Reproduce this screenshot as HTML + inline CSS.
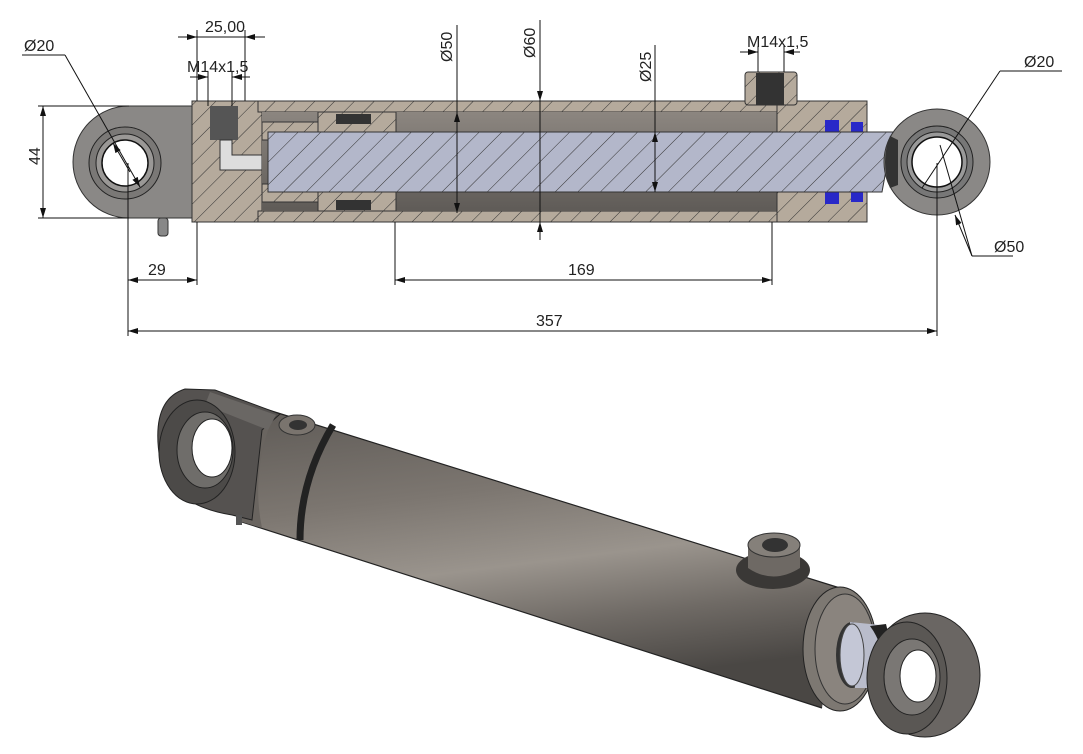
<!DOCTYPE html>
<html><head><meta charset="utf-8"><style>
html,body{margin:0;padding:0;background:#fff;}
svg{display:block;font-family:"Liberation Sans",sans-serif;}
</style></head><body>
<svg width="1083" height="754" viewBox="0 0 1083 754" xmlns="http://www.w3.org/2000/svg">
<defs>
<pattern id="h" width="14" height="14" patternUnits="userSpaceOnUse" patternTransform="rotate(45)">
<rect width="14" height="14" fill="#b5aa9c"/><line x1="0" y1="0" x2="0" y2="14" stroke="#333" stroke-width="1"/></pattern>
<pattern id="hr" width="16" height="16" patternUnits="userSpaceOnUse" patternTransform="rotate(45)">
<rect width="16" height="16" fill="#b3b7ca"/><line x1="0" y1="0" x2="0" y2="16" stroke="#333" stroke-width="1"/></pattern>
<linearGradient id="tube" x1="0" y1="0" x2="0.25" y2="1">
<stop offset="0" stop-color="#5e5a56"/><stop offset="0.35" stop-color="#7c7670"/><stop offset="0.6" stop-color="#9a948d"/><stop offset="0.8" stop-color="#6f6a65"/><stop offset="1" stop-color="#4a4744"/></linearGradient>
<linearGradient id="bore" x1="0" y1="0" x2="0" y2="1"><stop offset="0" stop-color="#8c8680"/><stop offset="1" stop-color="#5f5b57"/></linearGradient>
<marker id="a" viewBox="0 0 10 6" refX="10" refY="3" markerWidth="10" markerHeight="6" orient="auto-start-reverse"><path d="M0,0L10,3L0,6z" fill="#111"/></marker>
</defs>

<!-- ===== Section view ===== -->
<path d="M129,106 L197,106 L197,218 L129,218 A56,56 0 0 1 129,106z" fill="#8a8886" stroke="#333"/>
<circle cx="125" cy="163" r="36" fill="#7a7876" stroke="#222"/>
<circle cx="125" cy="163" r="29" fill="#9a9896" stroke="#222"/>
<circle cx="125" cy="163" r="23" fill="#fff" stroke="#111" stroke-width="1.5"/>
<rect x="158" y="218" width="10" height="18" rx="3" fill="#888" stroke="#333"/>
<rect x="192" y="101" width="70" height="121" fill="url(#h)" stroke="#333"/>
<rect x="210" y="106" width="28" height="34" fill="#555"/>
<path d="M220,140 L220,170 L262,170 L262,155 L232,155 L232,140z" fill="#ddd" stroke="#333"/>
<rect x="258" y="101" width="595" height="11" fill="url(#h)" stroke="#333"/>
<rect x="258" y="211" width="595" height="11" fill="url(#h)" stroke="#333"/>
<rect x="262" y="112" width="515" height="99" fill="url(#bore)"/>
<rect x="777" y="101" width="90" height="31" fill="url(#h)" stroke="#333"/>
<rect x="777" y="192" width="90" height="30" fill="url(#h)" stroke="#333"/>
<rect x="825" y="120" width="14" height="12" fill="#2828c8"/><rect x="851" y="122" width="12" height="10" fill="#2828c8"/>
<rect x="825" y="192" width="14" height="12" fill="#2828c8"/><rect x="851" y="192" width="12" height="10" fill="#2828c8"/>
<rect x="318" y="112" width="78" height="20" fill="url(#h)" stroke="#333"/>
<rect x="318" y="192" width="78" height="19" fill="url(#h)" stroke="#333"/>
<rect x="336" y="114" width="35" height="10" fill="#333"/><rect x="336" y="200" width="35" height="10" fill="#333"/>
<rect x="262" y="122" width="56" height="18" fill="url(#h)" stroke="#333"/>
<rect x="262" y="184" width="56" height="18" fill="url(#h)" stroke="#333"/>
<path d="M268,132 L893,132 L882,192 L268,192z" fill="url(#hr)" stroke="#333"/>
<rect x="745" y="72" width="52" height="33" rx="3" fill="url(#h)" stroke="#333"/>
<rect x="756" y="73" width="28" height="32" fill="#333"/>
<circle cx="937" cy="162" r="53" fill="#8a8886" stroke="#333"/>
<circle cx="937" cy="162" r="36" fill="#777" stroke="#222"/>
<circle cx="937" cy="162" r="30" fill="#999" stroke="#222"/>
<circle cx="937" cy="162" r="25" fill="#fff" stroke="#111" stroke-width="1.5"/>
<path d="M890,136 Q880,162 890,188 L898,185 L898,140z" fill="#333"/>

<!-- ===== Dimensions ===== -->
<g stroke="#111" stroke-width="1" fill="none">
<line x1="43" y1="106" x2="43" y2="218" marker-start="url(#a)" marker-end="url(#a)"/>
<line x1="38" y1="106" x2="129" y2="106"/><line x1="38" y1="218" x2="129" y2="218"/>
<line x1="197" y1="30" x2="197" y2="101"/><line x1="245" y1="30" x2="245" y2="101"/>
<line x1="178" y1="37" x2="197" y2="37" marker-end="url(#a)"/><line x1="265" y1="37" x2="245" y2="37" marker-end="url(#a)"/><line x1="197" y1="37" x2="245" y2="37"/>
<line x1="208" y1="72" x2="208" y2="106"/><line x1="232" y1="72" x2="232" y2="106"/>
<line x1="190" y1="77" x2="208" y2="77" marker-end="url(#a)"/><line x1="250" y1="77" x2="232" y2="77" marker-end="url(#a)"/>
<line x1="22" y1="55" x2="65" y2="55"/><line x1="65" y1="55" x2="140" y2="187" marker-end="url(#a)"/><line x1="130" y1="172" x2="113" y2="143" marker-end="url(#a)"/>
<line x1="457" y1="25" x2="457" y2="213" marker-end="url(#a)"/><line x1="457" y1="150" x2="457" y2="112" marker-end="url(#a)"/>
<line x1="540" y1="20" x2="540" y2="240"/><line x1="540" y1="80" x2="540" y2="101" marker-end="url(#a)"/><line x1="540" y1="240" x2="540" y2="222" marker-end="url(#a)"/>
<line x1="655" y1="45" x2="655" y2="192" marker-end="url(#a)"/><line x1="655" y1="160" x2="655" y2="132" marker-end="url(#a)"/>
<line x1="758" y1="46" x2="758" y2="72"/><line x1="784" y1="46" x2="784" y2="72"/>
<line x1="740" y1="52" x2="758" y2="52" marker-end="url(#a)"/><line x1="800" y1="52" x2="784" y2="52" marker-end="url(#a)"/>
<line x1="1000" y1="71" x2="1062" y2="71"/><line x1="1000" y1="71" x2="922" y2="188"/>
<line x1="972" y1="256" x2="1013" y2="256"/><line x1="972" y1="256" x2="955" y2="215" marker-end="url(#a)"/><line x1="940" y1="145" x2="972" y2="256"/>
<line x1="128" y1="163" x2="128" y2="336"/><line x1="197" y1="222" x2="197" y2="285"/>
<line x1="128" y1="280" x2="197" y2="280" marker-start="url(#a)" marker-end="url(#a)"/>
<line x1="395" y1="222" x2="395" y2="285"/><line x1="772" y1="222" x2="772" y2="285"/>
<line x1="395" y1="280" x2="772" y2="280" marker-start="url(#a)" marker-end="url(#a)"/>
<line x1="937" y1="163" x2="937" y2="336"/>
<line x1="128" y1="331" x2="937" y2="331" marker-start="url(#a)" marker-end="url(#a)"/>
</g>
<g fill="#222" font-size="16">
<text x="205" y="32">25,00</text>
<text x="187" y="72">M14x1,5</text>
<text x="747" y="47">M14x1,5</text>
<text x="24" y="51">Ø20</text>
<text x="1024" y="67">Ø20</text>
<text x="994" y="252">Ø50</text>
<text x="148" y="275">29</text>
<text x="568" y="275">169</text>
<text x="536" y="326">357</text>
<text transform="translate(40,165) rotate(-90)">44</text>
<text transform="translate(452,62) rotate(-90)">Ø50</text>
<text transform="translate(535,58) rotate(-90)">Ø60</text>
<text transform="translate(651,82) rotate(-90)">Ø25</text>
</g>

<!-- ===== 3D view ===== -->
<path d="M262,408 L840,588 L822,708 L242,522z" fill="url(#tube)"/>
<path d="M262,408 L840,588 M242,522 L822,708" stroke="#222" stroke-width="1.2" fill="none"/>
<path d="M262,408 Q240,465 242,522 L262,528 Q250,470 275,412z" fill="#6a6560"/>
<path d="M333,425 Q300,480 300,540" stroke="#222" stroke-width="7" fill="none"/>
<path d="M185,389 L215,390 L280,414 L262,430 L252,520 L232,515 Q170,505 160,460 Q150,400 185,389z" fill="#555250" stroke="#222"/>
<path d="M210,392 L276,415 L268,430 L205,405z" fill="#6a6764"/>
<ellipse cx="197" cy="452" rx="38" ry="52" fill="#4c4a48" stroke="#222"/>
<ellipse cx="205" cy="450" rx="28" ry="38" fill="#6f6d6a" stroke="#222"/>
<ellipse cx="212" cy="448" rx="20" ry="29" fill="#fff" stroke="#222"/>
<ellipse cx="297" cy="425" rx="18" ry="10" fill="#7a746e" stroke="#333"/>
<ellipse cx="298" cy="425" rx="9" ry="5" fill="#333"/>
<rect x="236" y="515" width="6" height="10" fill="#555"/>
<ellipse cx="773" cy="570" rx="37" ry="19" fill="#3a3836"/>
<path d="M748,545 L748,568 Q773,585 800,568 L800,545z" fill="#6e6964"/>
<ellipse cx="774" cy="545" rx="26" ry="12" fill="#85807a" stroke="#333"/>
<ellipse cx="775" cy="545" rx="13" ry="7" fill="#333"/>
<ellipse cx="840" cy="649" rx="37" ry="62" fill="#7d7872" stroke="#222"/>
<ellipse cx="845" cy="649" rx="30" ry="55" fill="#8a847e" stroke="#333"/>
<ellipse cx="852" cy="655" rx="16" ry="33" fill="#333"/>
<path d="M850,622 L880,625 L885,688 L855,688z" fill="#b9bccb"/>
<ellipse cx="852" cy="655" rx="12" ry="31" fill="#c4c7d6" stroke="#444"/>
<path d="M870,626 Q888,650 884,692 L902,690 L886,624z" fill="#222"/>
<ellipse cx="925" cy="675" rx="55" ry="62" fill="#6a6663" stroke="#222"/>
<ellipse cx="907" cy="678" rx="40" ry="56" fill="#5a5754" stroke="#222"/>
<ellipse cx="912" cy="677" rx="28" ry="38" fill="#7a7774" stroke="#222"/>
<ellipse cx="918" cy="676" rx="18" ry="26" fill="#fff" stroke="#222"/>
</svg>
</body></html>
